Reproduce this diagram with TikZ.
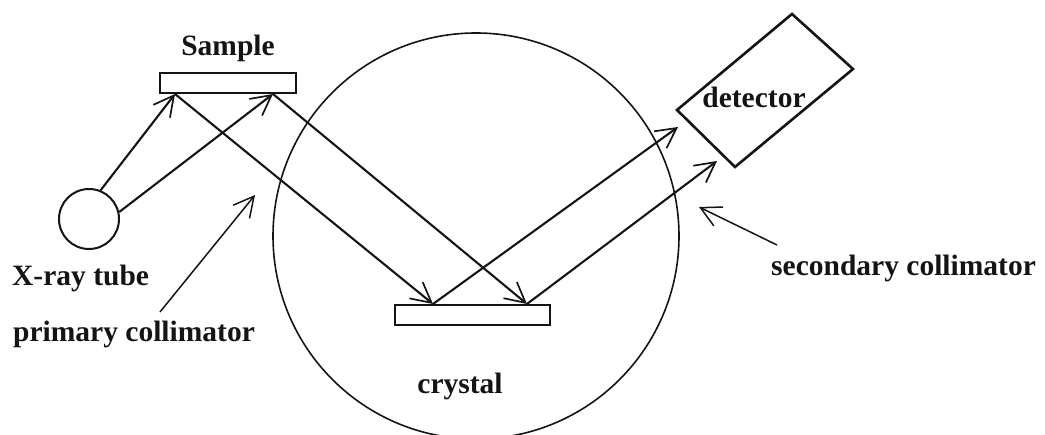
\documentclass[tikz,border=0pt]{standalone}
\usepackage{fontspec}
\setmainfont{Liberation Serif}
\definecolor{InkBlack}{RGB}{20,20,20}
\usetikzlibrary{arrows.meta}
\tikzset{
  plate/.style={draw=InkBlack,fill=white,line width=2pt,minimum height=20pt,inner sep=0pt},
  ray/.style={-{Straight Barb[length=20pt,width=21pt,line width=1.7pt]},draw=InkBlack,line width=2.1pt},
  pointer/.style={-{Straight Barb[length=20pt,width=21pt,line width=1.5pt]},draw=InkBlack,line width=1.5pt},
  lab/.style={font=\fontsize{29.5}{32}\selectfont\bfseries,text=InkBlack,inner sep=0pt}
}
\begin{document}
\begin{tikzpicture}[x=1pt,y=-1pt]
  \useasboundingbox (0,0) rectangle (1045,435);
  \node[circle,draw=InkBlack,line width=1.6pt,minimum size=406pt,inner sep=0pt] (lens) at (476,236) {};
  \node[plate,minimum width=136pt] (sample) at (227.5,83.5) {};
  \node[plate,minimum width=155pt] (crystal) at (472,315) {};
  \node[circle,draw=InkBlack,line width=2pt,minimum size=60pt,inner sep=0pt] (tube) at (89,219) {};
  \coordinate (h1) at (677,110);
  \coordinate (h2) at (792,14);
  \coordinate (h3) at (853,69);
  \coordinate (h4) at (735,167);
  \draw[draw=InkBlack,line width=2.6pt] (h1) -- (h2) -- (h3) -- (h4) -- cycle;
  \coordinate (s1) at (175,94);
  \coordinate (s2) at (273,94);
  \coordinate (c1) at (433,304);
  \coordinate (c2) at (527,304);
  \coordinate (d1) at (678,127);
  \coordinate (d2) at (717,161);
  \coordinate (pfoot) at (160,312);
  \coordinate (ptip) at (255,195);
  \coordinate (sfoot) at (777,245);
  \coordinate (stip) at (699,207);
  \foreach \from/\to in {tube.68/s1,tube.13/s2,s1/c1,s2/c2,c1/d1,c2/d2} {
    \draw[ray] (\from) -- (\to);
  }
  \draw[pointer] (pfoot) -- (ptip);
  \draw[pointer] (sfoot) -- (stip);
  \node[lab] (samplelab) at (228,48) {Sample};
  \node[lab,anchor=west] (tubelab) at (12,278) {X-ray tube};
  \node[lab,anchor=west] (primlab) at (13,334) {primary collimator};
  \node[lab,anchor=west] (seclab) at (771,268) {secondary collimator};
  \node[lab] (crystallab) at (460,386) {crystal};
  \node[lab] (detlab) at (754,97) {detector};
\end{tikzpicture}
\end{document}
